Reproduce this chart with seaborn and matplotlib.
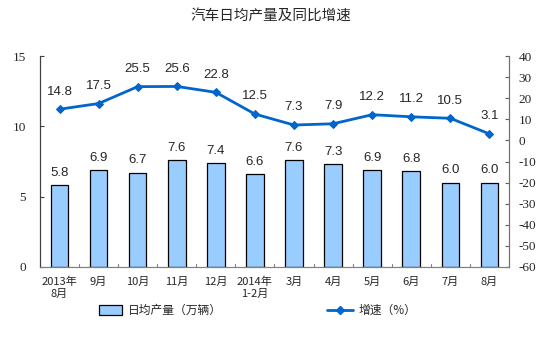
import matplotlib
matplotlib.use("Agg")
import matplotlib.pyplot as plt
import seaborn as sns
import pandas as pd
import numpy as np
from matplotlib.patches import Patch
from matplotlib.lines import Line2D

months = ["2013年\n8月", "9月", "10月", "11月", "12月", "2014年\n1-2月",
          "3月", "4月", "5月", "6月", "7月", "8月"]
daily_output = [5.8, 6.9, 6.7, 7.6, 7.4, 6.6, 7.6, 7.3, 6.9, 6.8, 6.0, 6.0]
growth = [14.8, 17.5, 25.5, 25.6, 22.8, 12.5, 7.3, 7.9, 12.2, 11.2, 10.5, 3.1]
left_ticks = [0, 5, 10, 15]
right_ticks = list(range(-60, 41, 10))

sns.set_style("white")
plt.rcParams["font.family"] = ["Noto Sans CJK SC", "DejaVu Sans"]

cjk = ["Noto Sans CJK SC", "DejaVu Sans"]
serif = ["Liberation Serif", "DejaVu Serif"]
sans = ["Liberation Sans", "DejaVu Sans"]

df = pd.DataFrame({"month": months, "output": daily_output,
                   "growth": growth, "pos": np.arange(len(months))})

fig = plt.figure(figsize=(5.53, 3.44), dpi=100)
ax = fig.add_axes([0.0723, 0.224, 0.848, 0.613])

bar_color = "#99CCFF"
line_color = "#0066CC"

sns.barplot(data=df, x="pos", y="output", ax=ax, color=bar_color,
            width=0.45, edgecolor="black", linewidth=0.9, saturation=1,
            native_scale=True)
ax.set_xlim(-0.5, len(months) - 0.5)
ax.set_ylim(0, 15)
ax.set_yticks(left_ticks)
ax.set_yticklabels([str(t) for t in left_ticks], family=serif, fontsize=9.5)
ax.set_xticks(np.arange(len(months)))
ax.set_xticklabels(months, family=cjk, fontsize=8, linespacing=1.25)
ax.tick_params(axis="x", length=0, pad=7)
ax.tick_params(axis="y", length=3, width=0.8, color="#404040", direction="in", pad=10)
ax.set_xlabel("")
ax.set_ylabel("")

# small boundary ticks on the category axis
for b in np.arange(0.5, len(months) - 0.5, 1.0):
    ax.plot([b, b], [0, 0.2], color="#808080", lw=0.8, clip_on=False)

for i, v in enumerate(daily_output):
    ax.text(i, v + 0.45, f"{v:.1f}", ha="center", va="bottom",
            family=sans, fontsize=9.5)

ax2 = ax.twinx()
sns.lineplot(data=df, x="pos", y="growth", ax=ax2, color=line_color,
             marker="D", markersize=4.5, markeredgecolor=line_color,
             linewidth=2)
ax2.set_ylim(-60, 40)
ax2.set_yticks(right_ticks)
ax2.set_yticklabels([str(t) for t in right_ticks], family=serif, fontsize=9.5)
ax2.tick_params(axis="y", length=3, width=0.8, color="#606060", direction="in", pad=7)
ax2.set_xlabel("")
ax2.set_ylabel("")
ax2.set_xlim(-0.5, len(months) - 0.5)

for i, v in enumerate(growth):
    ax2.text(i, v + 5.5, f"{v:.1f}", ha="center", va="bottom",
             family=sans, fontsize=9.5)

for a in (ax, ax2):
    a.spines["top"].set_visible(False)
    a.spines["left"].set_color("#404040")
    a.spines["right"].set_color("#707070")
    a.spines["bottom"].set_color("#808080")
    for s in a.spines.values():
        s.set_linewidth(0.8)

fig.suptitle("汽车日均产量及同比增速", x=0.49, y=0.975, family=cjk, fontsize=10.5)

handles = [Patch(facecolor=bar_color, edgecolor="black", linewidth=0.9),
           Line2D([], [], color=line_color, marker="D", markersize=4.5, linewidth=2)]
fig.legend(handles[:1], ["日均产量（万辆）"], loc="center", bbox_to_anchor=(0.29, 0.098),
           frameon=False, prop={"family": cjk, "size": 8.5}, handlelength=2.0,
           handleheight=0.9, handletextpad=0.5)
fig.legend(handles[1:], ["增速（%）"], loc="center", bbox_to_anchor=(0.672, 0.098),
           frameon=False, prop={"family": cjk, "size": 8.5}, handlelength=2.2,
           handletextpad=0.4)

fig.savefig("out.png", dpi=100)
